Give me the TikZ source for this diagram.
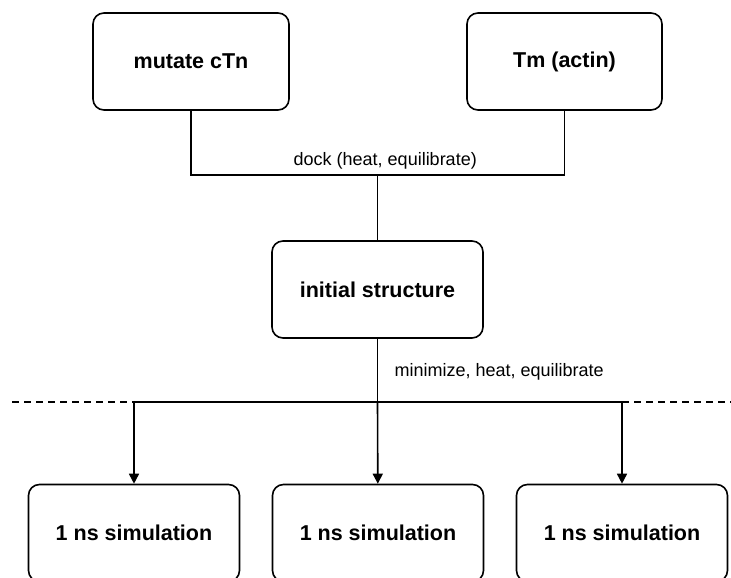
\documentclass[tikz,border=0pt]{standalone}
\usepackage{fontspec}
\setmainfont{Liberation Sans}
\usetikzlibrary{positioning,arrows.meta}

\tikzset{
  stagebox/.style={draw, line width=1.6pt, rounded corners=11pt, minimum width=#1, minimum height=97pt,
    font=\fontsize{21.5}{24}\selectfont\bfseries, inner sep=0pt},
  stagebox/.default=196pt,
  flow/.style={line width=1.6pt},
  flowarrow/.style={line width=1.6pt, -{Triangle[length=10pt,width=10pt]}},
  steplabel/.style={font=\fontsize{18}{21}\selectfont, inner sep=0pt}
}

\begin{document}
\begin{tikzpicture}[x=1pt,y=-1pt]

\useasboundingbox (0,0) rectangle (731,578);

%Boxes
\node (mutate) [stagebox] at (191,61.5) {mutate cTn};
\node (tm) [stagebox=195pt] at (564.5,61.5) {Tm (actin)};
\node (initial) [stagebox=211pt] at (377.5,289.5) {initial structure};
\node (sim1) [stagebox=211pt] at (134,533) {1 ns simulation};
\node (sim2) [stagebox=211pt] at (378,533) {1 ns simulation};
\node (sim3) [stagebox=211pt] at (622,533) {1 ns simulation};

%Joints of the lines
\coordinate (dockjoint) at (377.5,175);
\coordinate (splitjoint) at (377.5,402);
\coordinate (dashleft) at (12,402);
\coordinate (dashright) at (731,402);

%Docking step
\draw[flow] (mutate) |- (dockjoint) -| (tm);
\draw[flow] (dockjoint) -- (initial);
\node (docklabel) [steplabel, above right=6pt and -84pt of dockjoint] {dock (heat, equilibrate)};

%Simulation step
\draw[flow] (initial) -- (splitjoint);
\node (minlabel) [steplabel, above right=22pt and 17pt of splitjoint] {minimize, heat, equilibrate};
\draw[flowarrow] (splitjoint) -| (sim1);
\draw[flowarrow] (splitjoint) -- (sim2);
\draw[flowarrow] (splitjoint) -| (sim3);

%Dashed ends
\draw[flow, dash pattern=on 7pt off 5pt] (dashleft) -- (sim1.north |- splitjoint);
\draw[flow, dash pattern=on 7pt off 5pt] (sim3.north |- splitjoint) -- (dashright);

\end{tikzpicture}
\end{document}
